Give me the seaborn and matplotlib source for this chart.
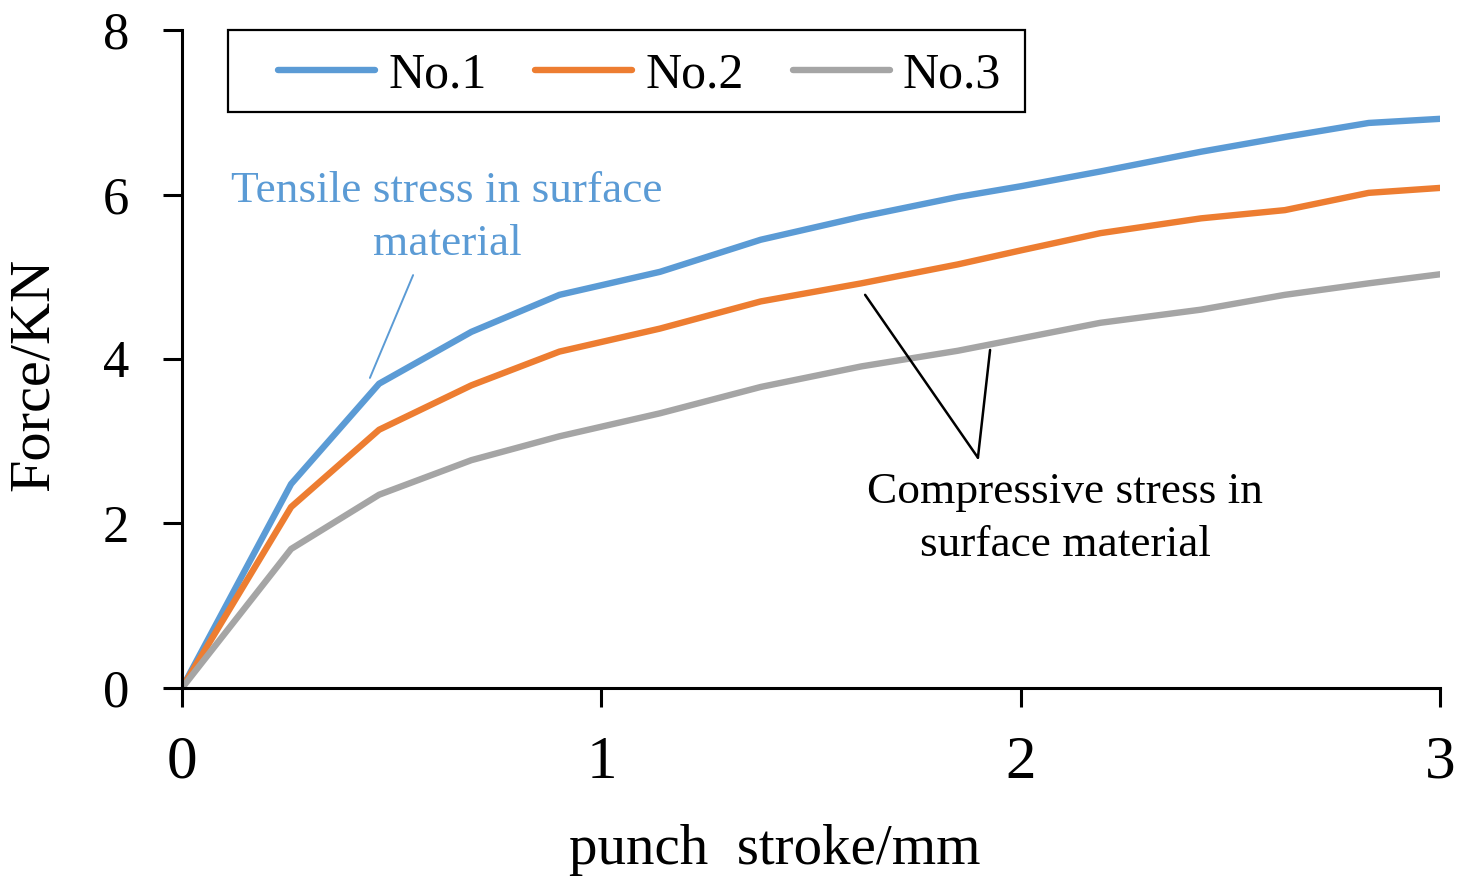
import matplotlib
matplotlib.use("Agg")
import matplotlib.pyplot as plt
from matplotlib.patches import Rectangle
import seaborn as sns
import pandas as pd

# Punch stroke (mm) and measured force (kN) for the three specimens
stroke = [0.0, 0.26, 0.47, 0.69, 0.90, 1.14, 1.38, 1.62, 1.85, 2.0, 2.19, 2.43, 2.63, 2.83, 3.0]
force_no1 = [0.0, 2.48, 3.70, 4.33, 4.78, 5.06, 5.45, 5.73, 5.97, 6.10, 6.28, 6.52, 6.70, 6.87, 6.92]
force_no2 = [0.0, 2.20, 3.14, 3.68, 4.09, 4.37, 4.70, 4.92, 5.15, 5.32, 5.53, 5.71, 5.81, 6.02, 6.08]
force_no3 = [0.0, 1.69, 2.35, 2.77, 3.06, 3.34, 3.66, 3.91, 4.10, 4.25, 4.44, 4.60, 4.78, 4.92, 5.03]
series_names = ["No.1", "No.2", "No.3"]
colors = ["#5B9BD5", "#ED7D31", "#A5A5A5"]

x_ticks = [0, 1, 2, 3]
y_ticks = [0, 2, 4, 6, 8]

df = pd.concat([
    pd.DataFrame({"stroke": stroke, "force": f, "sample": name})
    for f, name in zip([force_no1, force_no2, force_no3], series_names)
])

sns.set_theme(style="ticks")
plt.rcParams["font.family"] = ["Liberation Serif", "DejaVu Serif"]
plt.rcParams["axes.linewidth"] = 2.2
for key in ("text.color", "axes.labelcolor", "xtick.color", "ytick.color",
            "axes.edgecolor"):
    plt.rcParams[key] = "black"

fig = plt.figure(figsize=(14.73, 8.8), dpi=100)
ax = fig.add_axes([0.1236, 0.2182, 0.854, 0.7477])

sns.lineplot(data=df, x="stroke", y="force", hue="sample", palette=colors,
             linewidth=4.6, ax=ax, sort=False)

ax.set_xlim(0, 3)
ax.set_ylim(0, 8)
ax.set_xticks(x_ticks)
ax.set_yticks(y_ticks)
ax.tick_params(axis="both", direction="out", length=14, width=2.2, color="black")
ax.tick_params(axis="x", labelsize=44, pad=20)
ax.tick_params(axis="y", labelsize=38, pad=24)
for side in ("top", "right"):
    ax.spines[side].set_visible(False)

ax.set_xlabel("punch  stroke/mm", fontsize=41)
ax.set_ylabel("Force/KN", fontsize=42)
ax.xaxis.set_label_coords(0.471, -0.207)
ax.yaxis.set_label_coords(-0.097, 0.476)

# Legend: entries in one row inside a plain black frame
leg = ax.legend(loc="center left", bbox_to_anchor=(0.0763, 0.931), ncol=3,
                fontsize=36, frameon=False, handlelength=1.94,
                handletextpad=0.26, columnspacing=0.98, borderpad=0.0,
                borderaxespad=0.0)
for line in leg.get_lines():
    line.set_linewidth(4.6)
ax.add_patch(Rectangle((0.0366, 0.875), 0.6335, 0.125, transform=ax.transAxes,
                       fill=False, edgecolor="black", linewidth=1.6,
                       clip_on=False, zorder=5))

# Annotations
ax.text(0.632, 5.72, "Tensile stress in surface\nmaterial", color="#5B9BD5",
        fontsize=32.7, ha="center", va="center", linespacing=1.42)
ax.annotate("", xy=(0.448, 3.77), xytext=(0.551, 5.02),
            arrowprops=dict(arrowstyle="-", color="#5B9BD5", lw=1.4,
                            shrinkA=0, shrinkB=0))

ax.text(2.106, 2.06, "Compressive stress in\nsurface material", color="black",
        fontsize=32.7, ha="center", va="center", linespacing=1.42)
ax.annotate("", xy=(1.898, 2.80), xytext=(1.629, 4.78),
            arrowprops=dict(arrowstyle="-", color="black", lw=1.8,
                            shrinkA=0, shrinkB=0))
ax.annotate("", xy=(1.898, 2.80), xytext=(1.927, 4.11),
            arrowprops=dict(arrowstyle="-", color="black", lw=1.8,
                            shrinkA=0, shrinkB=0))

fig.savefig("out.png", dpi=100)
